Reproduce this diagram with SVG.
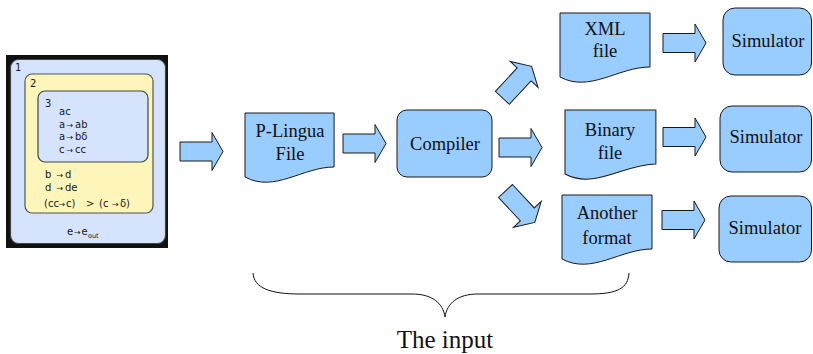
<svg xmlns="http://www.w3.org/2000/svg" xmlns:xlink="http://www.w3.org/1999/xlink" width="813" height="354" viewBox="0 0 813 354">
  <style>
    .shape { fill: #99ccff; stroke: #1a1a1a; stroke-width: 1; }
    .label { font-family: "Liberation Serif", "Times New Roman", serif; font-size: 18.5px; fill: #111; text-anchor: middle; }
    .mem { fill: #d5e3fc; stroke: #444; stroke-width: 1.2; }
    .reg { fill: #fdf5b9; stroke: #555; stroke-width: 1.2; }
    .rule { font-family: "DejaVu Sans", "Liberation Sans", sans-serif; font-size: 10px; fill: #1a1a1a; }
    .ar { font-size: 8px; }
    .brace { fill: none; stroke: #111; stroke-width: 1; }
  </style>
  <defs>
    <!-- block arrow, tail at origin, pointing along +x -->
    <path id="arrow" d="M0,-9.5 L32,-9.5 L32,-19 L43,0 L32,19 L32,9.5 L0,9.5 Z"/>
    <!-- flowchart document: flat top, wavy bottom edge -->
    <path id="doc" d="M0,0 L90,0 L90,54 C58,54 30,80 0,64 Z"/>
  </defs>

  <!-- P system membrane structure -->
  <g id="membranes">
    <rect x="6" y="55" width="162" height="193" fill="#111"/>
    <rect class="mem" x="10.5" y="59.5" width="155" height="184" rx="8"/>
    <rect class="reg" x="25" y="74" width="128" height="139" rx="7"/>
    <rect class="mem" x="38" y="91" width="110" height="71" rx="7"/>
    <text class="rule" x="15" y="71">1</text>
    <text class="rule" x="30" y="87">2</text>
    <text class="rule" x="45" y="107">3</text>
    <text class="rule" x="59" y="115">ac</text>
    <text class="rule" y="127.5"><tspan x="59">a</tspan><tspan class="ar" x="66.5">→</tspan><tspan x="75">ab</tspan></text>
    <text class="rule" y="140"><tspan x="59">a</tspan><tspan class="ar" x="66.5">→</tspan><tspan x="75">bδ</tspan></text>
    <text class="rule" y="153"><tspan x="59">c</tspan><tspan class="ar" x="66.5">→</tspan><tspan x="75">cc</tspan></text>
    <text class="rule" y="178"><tspan x="45">b</tspan><tspan class="ar" x="56.5">→</tspan><tspan x="65">d</tspan></text>
    <text class="rule" y="190.5"><tspan x="45">d</tspan><tspan class="ar" x="56.5">→</tspan><tspan x="65">de</tspan></text>
    <text class="rule" y="206.5"><tspan x="44">(cc</tspan><tspan class="ar" x="58.5">→</tspan><tspan x="66">c)</tspan><tspan x="86">&gt;</tspan><tspan x="99">(c</tspan><tspan class="ar" x="112">→</tspan><tspan x="120">δ)</tspan></text>
    <text class="rule" y="235"><tspan x="67">e</tspan><tspan class="ar" x="74">→</tspan><tspan x="81.5">e</tspan><tspan x="88" y="238" font-size="6.5px">out</tspan></text>
  </g>

  <!-- block arrows -->
  <g id="connectors" class="shape">
    <use xlink:href="#arrow" href="#arrow" transform="translate(180,151.5)"/>
    <use xlink:href="#arrow" href="#arrow" transform="translate(343,143.5)"/>
    <use xlink:href="#arrow" href="#arrow" transform="translate(502.3,97.8) rotate(-47)"/>
    <use xlink:href="#arrow" href="#arrow" transform="translate(499,147.5)"/>
    <use xlink:href="#arrow" href="#arrow" transform="translate(505.5,191) rotate(47)"/>
    <use xlink:href="#arrow" href="#arrow" transform="translate(663,43)"/>
    <use xlink:href="#arrow" href="#arrow" transform="translate(663,137)"/>
    <use xlink:href="#arrow" href="#arrow" transform="translate(662,220)"/>
  </g>

  <g id="plingua">
    <use class="shape" xlink:href="#doc" href="#doc" transform="translate(245,113) scale(0.99,1)"/>
    <text class="label" x="290" y="137">P-Lingua</text>
    <text class="label" x="290" y="160">File</text>
  </g>

  <g id="compiler">
    <rect class="shape" x="397" y="110" width="95" height="67" rx="10"/>
    <text class="label" x="445" y="150">Compiler</text>
  </g>

  <g id="xml">
    <use class="shape" xlink:href="#doc" href="#doc" transform="translate(560,13)"/>
    <text class="label" x="605" y="35">XML</text>
    <text class="label" x="605" y="57">file</text>
  </g>

  <g id="binary">
    <use class="shape" xlink:href="#doc" href="#doc" transform="translate(565,110) scale(1.01,1)"/>
    <text class="label" x="610" y="136">Binary</text>
    <text class="label" x="610" y="159">file</text>
  </g>

  <g id="another">
    <use class="shape" xlink:href="#doc" href="#doc" transform="translate(562,195)"/>
    <text class="label" x="607" y="219">Another</text>
    <text class="label" x="607" y="244">format</text>
  </g>

  <g id="sim1">
    <rect class="shape" x="723" y="8" width="88.5" height="67" rx="12"/>
    <text class="label" x="768" y="47">Simulator</text>
  </g>
  <g id="sim2">
    <rect class="shape" x="720" y="106" width="91.5" height="66" rx="12"/>
    <text class="label" x="766" y="143">Simulator</text>
  </g>
  <g id="sim3">
    <rect class="shape" x="719" y="196" width="92.5" height="66" rx="12"/>
    <text class="label" x="765" y="234">Simulator</text>
  </g>

  <!-- underbrace grouping the input stages -->
  <g id="input">
    <path class="brace" d="M253,273 C254,288 270,294 300,294 L412,294 C432,294 443,303 445,317 C447,303 458,294 478,294 L590,294 C618,294 628,288 629,273"/>
    <text x="445" y="348" font-family="Liberation Serif, Times New Roman, serif" font-size="25px" fill="#111" text-anchor="middle">The input</text>
  </g>
</svg>
